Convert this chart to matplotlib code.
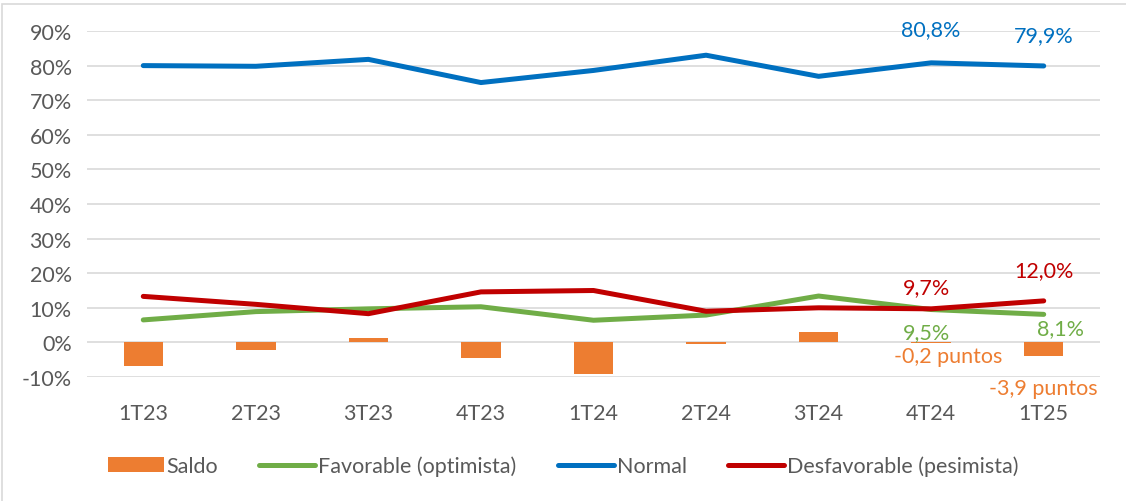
"""Expectativas trimestrales: Normal / Favorable / Desfavorable y saldo."""

import matplotlib.pyplot as plt
from matplotlib.patches import Rectangle
import numpy as np

plt.rcParams["font.family"] = ["Lato", "DejaVu Sans"]

# --- Data (percent) ---
quarters = ["1T23", "2T23", "3T23", "4T23", "1T24", "2T24", "3T24", "4T24", "1T25"]
normal = [80.0, 79.8, 81.8, 75.1, 78.6, 83.0, 76.9, 80.8, 79.9]
favorable = [6.5, 8.9, 9.7, 10.3, 6.4, 7.9, 13.4, 9.5, 8.1]
desfavorable = [13.3, 11.0, 8.3, 14.6, 15.0, 9.0, 10.0, 9.7, 12.0]
saldo = [-6.8, -2.2, 1.4, -4.6, -9.0, -0.6, 3.1, -0.2, -3.9]
yticks = [-10, 0, 10, 20, 30, 40, 50, 60, 70, 80, 90]

BLUE = "#0070C0"
GREEN = "#70AD47"
RED = "#C00000"
ORANGE = "#ED7D31"
GREY = "#595959"
GRID = "#D9D9D9"
FS = 15.5

fig = plt.figure(figsize=(11.26, 5.02), dpi=100)
fig.patch.set_facecolor("white")

# chart frame (Excel style)
fig.patches.append(Rectangle((2 / 1126, -0.05), 1.05, 1 - 5 / 502 + 0.05,
                             transform=fig.transFigure, fill=False,
                             edgecolor=GRID, linewidth=1.2))

ax = fig.add_axes([87 / 1126, 1 - 378 / 502, (1100 - 87) / 1126, (378 - 32) / 502])
x = np.arange(len(quarters))

h_bar = ax.bar(x, saldo, width=0.35, color=ORANGE, label="Saldo", zorder=2)
h_fav, = ax.plot(x, favorable, color=GREEN, lw=3.6, label="Favorable (optimista)",
                 zorder=3, solid_capstyle="round")
h_nor, = ax.plot(x, normal, color=BLUE, lw=3.6, label="Normal", zorder=3,
                 solid_capstyle="round")
h_des, = ax.plot(x, desfavorable, color=RED, lw=3.6, label="Desfavorable (pesimista)",
                 zorder=4, solid_capstyle="round")

ax.set_xlim(-0.5, len(quarters) - 0.5)
ax.set_ylim(-10, 90)
ax.set_yticks(yticks)
ax.set_yticklabels([f"{v}%" for v in yticks])
ax.set_xticks(x)
ax.set_xticklabels(quarters)
ax.tick_params(axis="both", length=0, labelsize=FS, labelcolor=GREY)
ax.tick_params(axis="y", pad=11)
ax.tick_params(axis="x", pad=19)
ax.grid(axis="y", color=GRID, lw=1.2, zorder=0)
ax.set_axisbelow(True)
for s in ax.spines.values():
    s.set_visible(False)


def fmt(v):
    return f"{v:.1f}%".replace(".", ",")


# data labels on last two quarters
for i in (7, 8):
    ax.annotate(fmt(normal[i]), (x[i], normal[i]), xytext=(0, 24 if i == 7 else 22),
                textcoords="offset points", ha="center", va="center",
                fontsize=FS, color=BLUE)
    ax.annotate(fmt(desfavorable[i]), (x[i], desfavorable[i]),
                xytext=(-3 if i == 7 else 0, 16 if i == 7 else 22),
                textcoords="offset points", ha="center", va="center",
                fontsize=FS, color=RED)
ax.annotate(fmt(favorable[7]), (x[7], favorable[7]), xytext=(-3, -16),
            textcoords="offset points", ha="center", va="center", fontsize=FS, color=GREEN)
ax.annotate(fmt(favorable[8]), (x[8], favorable[8]), xytext=(12, -10),
            textcoords="offset points", ha="center", va="center", fontsize=FS, color=GREEN)
for i, dx, dy in ((7, 12, -9), (8, 0, -23)):
    ax.annotate(f"{saldo[i]:.1f} puntos".replace(".", ","), (x[i], saldo[i]),
                xytext=(dx, dy), textcoords="offset points", ha="center", va="center",
                fontsize=FS, color=ORANGE)

leg = fig.legend([h_bar, h_fav, h_nor, h_des],
                 ["Saldo", "Favorable (optimista)", "Normal", "Desfavorable (pesimista)"],
                 loc="center", bbox_to_anchor=(0.5, 1 - 467 / 502), ncol=4,
                 frameon=False, fontsize=FS, handlelength=2.6, handleheight=0.7,
                 columnspacing=1.9, handletextpad=0.15)
for t in leg.get_texts():
    t.set_color(GREY)

fig.savefig("out.png", dpi=100, facecolor="white")
